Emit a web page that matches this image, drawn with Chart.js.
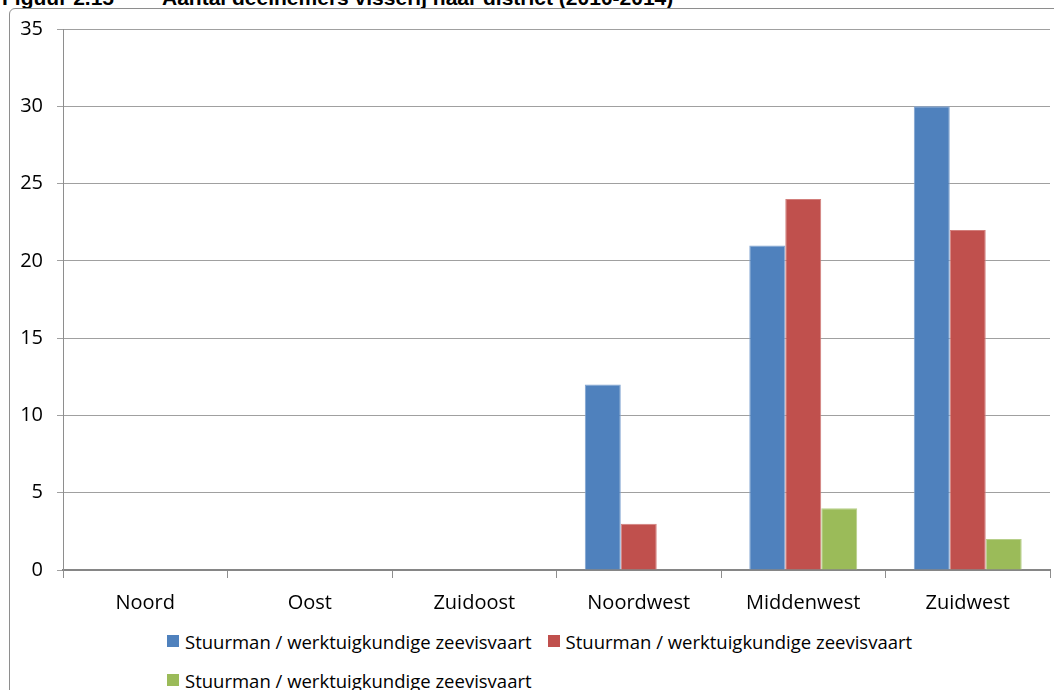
<!DOCTYPE html>
<html>
<head>
<meta charset="utf-8">
<script src="https://cdn.jsdelivr.net/npm/chart.js@4/dist/chart.umd.min.js"></script>
<style>
  html, body { margin:0; padding:0; background:#fff; }
  body { width:1054px; height:690px; position:relative; overflow:hidden; font-family:"Open Sans", sans-serif; }
  #frame { position:absolute; left:9px; top:8px; width:1100px; height:760px; border:1px solid #8e8e8e; border-radius:6px; box-sizing:border-box; }
  .title { position:absolute; top:-13px; font-family:"Liberation Sans", Arial, sans-serif; font-weight:bold; font-size:21px; line-height:21px; color:#000; white-space:nowrap; }
  #wrap { position:absolute; left:0; top:0; width:1054px; height:620px; }
  #legend { position:absolute; left:167px; top:626px; width:820px; display:flex; flex-wrap:wrap; row-gap:9px; column-gap:16px; }
  .item { display:flex; align-items:center; height:30px; font-size:18.5px; color:#000; white-space:nowrap; }
  .box { width:12px; height:12px; margin-right:6px; }
</style>
</head>
<body>
<div class="title" style="left:2px">Figuur 2.15</div>
<div class="title" style="left:162px">Aantal deelnemers visserij naar district (2010-2014)</div>
<div id="frame"></div>
<div id="wrap"><canvas id="c"></canvas></div>
<div id="legend"></div>
<script>
const categories = ['Noord', 'Oost', 'Zuidoost', 'Noordwest', 'Middenwest', 'Zuidwest'];
const seriesNames = [
  'Stuurman / werktuigkundige zeevisvaart',
  'Stuurman / werktuigkundige zeevisvaart',
  'Stuurman / werktuigkundige zeevisvaart'
];
const series1 = [0, 0, 0, 12, 21, 30];
const series2 = [0, 0, 0, 3, 24, 22];
const series3 = [0, 0, 0, 0, 4, 2];
const yTicks = [0, 5, 10, 15, 20, 25, 30, 35];

const fills = ['#4F81BD', '#C0504D', '#9BBB59'];
const borders = ['#7FA2D0', '#D27E7B', '#B7CF8A'];
const allSeries = [series1, series2, series3];

const datasets = allSeries.map((d, i) => ({
  label: seriesNames[i],
  data: d,
  backgroundColor: fills[i],
  borderColor: borders[i],
  borderWidth: 1,
  categoryPercentage: 0.656,
  barPercentage: 1.0
}));

const FONT = { family: '"Open Sans", sans-serif', size: 20 };

new Chart(document.getElementById('c'), {
  type: 'bar',
  data: { labels: categories, datasets },
  options: {
    responsive: true,
    maintainAspectRatio: false,
    animation: false,
    layout: { padding: { left: 0, right: 4, top: 29, bottom: 0 } },
    plugins: { legend: { display: false }, tooltip: { enabled: false } },
    scales: {
      x: {
        grid: { offset: true, drawOnChartArea: false, color: '#8e8e8e', tickLength: 8, lineWidth: 1 },
        border: { color: '#868686', width: 2 },
        ticks: { color: '#000', font: FONT, padding: 13, maxRotation: 0 },
        afterFit: s => { s.height = 50; }
      },
      y: {
        min: 0, max: 35,
        afterBuildTicks: s => { s.ticks = yTicks.map(v => ({ value: v })); },
        grid: { color: '#a0a0a0', tickLength: 6, lineWidth: 1 },
        border: { color: '#8e8e8e', width: 1 },
        ticks: { color: '#000', font: FONT, padding: 14 },
        afterFit: s => { s.width = 63; }
      }
    }
  }
});

const legend = document.getElementById('legend');
seriesNames.forEach((name, i) => {
  const it = document.createElement('div');
  it.className = 'item';
  const b = document.createElement('span');
  b.className = 'box';
  b.style.background = fills[i];
  const t = document.createElement('span');
  t.textContent = name;
  it.appendChild(b); it.appendChild(t);
  legend.appendChild(it);
});
</script>
</body>
</html>
